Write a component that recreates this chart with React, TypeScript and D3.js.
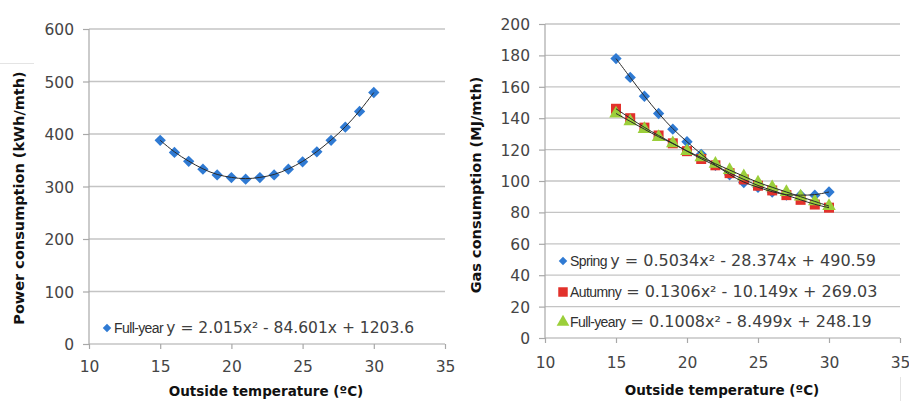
import React, { useEffect, useRef } from 'react';
import * as d3 from 'd3';

// outside temperature (ºC) of every monthly point
const temps = [15, 16, 17, 18, 19, 20, 21, 22, 23, 24, 25, 26, 27, 28, 29, 30];

// power consumption (kWh/mth)
const powerFullYear = [388, 365, 348, 333, 322, 317, 314, 317, 322, 333, 347, 366, 388, 413, 443, 479];

// gas consumption (MJ/mth)
const gasSpring = [178, 166, 154, 143, 133, 125, 117, 110, 104, 99, 96, 93, 91, 91, 91, 93];
const gasAutumn = [146, 140, 134, 129, 124, 119, 114, 110, 105, 101, 97, 94, 91, 88, 85, 83];
const gasFullYear = [143, 138, 133, 128, 124, 119, 115, 111, 107, 103, 99, 96, 93, 90, 87, 84];

const xTicks = [10, 15, 20, 25, 30, 35];
const powerTicks = [0, 100, 200, 300, 400, 500, 600];
const gasTicks = [0, 20, 40, 60, 80, 100, 120, 140, 160, 180, 200];

const BLUE = '#2f7ad3';
const RED = '#e2312b';
const GREEN = '#9bcf3a';
const FONT = '"DejaVu Sans", Verdana, sans-serif';
const NARROW = '"Liberation Sans Narrow", "Arial Narrow", "Liberation Sans", sans-serif';

export default function App() {
    const svgRef = useRef<SVGSVGElement>(null);

    useEffect(() => {
        const svg = d3.select(svgRef.current);
        svg.selectAll('*').remove();

        // frame artifacts of the scanned figure
        svg.append('line').attr('x1', 0).attr('x2', 34).attr('y1', 63.5).attr('y2', 63.5)
            .attr('stroke', '#e4e4e4').attr('stroke-width', 1);
        svg.append('line').attr('x1', 900.5).attr('x2', 900.5).attr('y1', 377).attr('y2', 401)
            .attr('stroke', '#e4e4e4').attr('stroke-width', 1);

        function panel(opts: any) {
            const x = d3.scaleLinear().domain([10, 35]).range(opts.xRange);
            const y = d3.scaleLinear().domain(opts.yDomain).range(opts.yRange);
            const g = svg.append('g');

            // gridlines
            g.selectAll('.grid').data(opts.yTicks.filter((d: number) => d > 0)).enter()
                .append('line')
                .attr('x1', x(10)).attr('x2', x(35))
                .attr('y1', (d: number) => y(d)).attr('y2', (d: number) => y(d))
                .attr('stroke', '#c4c4c4').attr('stroke-width', 1.3);

            // axes
            const xAxis = d3.axisBottom(x).tickValues(xTicks).tickSize(5).tickFormat(d3.format('d'));
            const yAxis = d3.axisLeft(y).tickValues(opts.yTicks).tickSize(6).tickFormat(d3.format('d'));
            const gx = g.append('g').attr('transform', `translate(0,${y(0)})`).call(xAxis);
            const gy = g.append('g').attr('transform', `translate(${x(10)},0)`).call(yAxis);
            [gx, gy].forEach(a => {
                a.select('.domain').attr('stroke', '#a8a8a8').attr('stroke-width', 1.2);
                a.selectAll('.tick line').attr('stroke', '#a8a8a8').attr('stroke-width', 1.2);
                a.selectAll('.tick text').attr('fill', '#454545')
                    .style('font-family', FONT).style('font-size', '15.5px');
            });
            gx.select('.domain').attr('d', `M${x(10)},0H${x(35)}`);
            gx.selectAll('.tick text').attr('dy', '0').attr('y', opts.xLabelY);
            gy.selectAll('.tick text').attr('x', -15).attr('dy', '0.36em');
            gy.select('.domain').attr('d', `M0,${y(opts.yDomain[1])}V${y(0)}`);

            // series
            opts.series.forEach((s: any) => {
                const pts = temps.map((t, i) => [x(t), y(s.values[i])] as [number, number]);
                g.append('g').selectAll('path').data(pts).enter().append('path')
                    .attr('d', d3.symbol().type(s.symbol).size(s.size)())
                    .attr('transform', (p: [number, number]) =>
                        `translate(${p[0]},${p[1]})` + (s.rotate ? ' rotate(45)' : ''))
                    .attr('fill', s.color);
            });
            opts.series.forEach((s: any) => {
                const pts = temps.map((t, i) => [x(t), y(s.values[i])] as [number, number]);
                g.append('path')
                    .attr('d', d3.line().curve(d3.curveBasis)(pts))
                    .attr('fill', 'none').attr('stroke', '#2a2a2a').attr('stroke-width', 1);
            });

            // legend
            opts.series.forEach((s: any, i: number) => {
                const ly = opts.legendY[i];
                g.append('path')
                    .attr('d', d3.symbol().type(s.symbol).size(s.legendSize)())
                    .attr('transform', `translate(${opts.legendX},${ly - 5})` + (s.rotate ? ' rotate(45)' : ''))
                    .attr('fill', s.color);
                const t = g.append('text').attr('x', opts.legendX + 7).attr('y', ly).attr('fill', '#303030');
                t.append('tspan').text(s.label)
                    .style('font-family', NARROW).style('font-size', '14px').attr('letter-spacing', -0.6);
                t.append('tspan').text(s.formula)
                    .style('font-family', FONT).style('font-size', opts.legendFont).attr('fill', '#404040');
            });

            // axis titles
            g.append('text')
                .attr('transform', `translate(${opts.yTitleX},${opts.yTitleY}) rotate(-90)`)
                .attr('text-anchor', 'middle')
                .style('font-family', FONT).style('font-size', '14.5px').style('font-weight', 'bold')
                .attr('fill', '#111')
                .text(opts.yTitle);
            g.append('text')
                .attr('x', opts.xTitleX).attr('y', opts.xTitleY)
                .attr('text-anchor', 'middle')
                .style('font-family', FONT).style('font-size', '13.5px').style('font-weight', 'bold')
                .attr('fill', '#111')
                .text('Outside temperature (ºC)');
        }

        panel({
            xRange: [89, 445],
            yDomain: [0, 600],
            yRange: [344, 29],
            yTicks: powerTicks,
            xLabelY: 28,
            legendX: 107,
            legendY: [333],
            legendFont: '15.5px',
            yTitle: 'Power consumption  (kWh/mth)',
            yTitleX: 24,
            yTitleY: 198,
            xTitleX: 266,
            xTitleY: 396,
            series: [
                { values: powerFullYear, color: BLUE, symbol: d3.symbolSquare, size: 64, legendSize: 36, rotate: true,
                  label: 'Full-year ', formula: 'y = 2.015x² - 84.601x + 1203.6' },
            ],
        });

        panel({
            xRange: [545, 900],
            yDomain: [0, 200],
            yRange: [338, 24],
            yTicks: gasTicks,
            xLabelY: 30,
            legendX: 563,
            legendY: [266, 297, 327],
            legendFont: '16px',
            yTitle: 'Gas consumption  (MJ/mth)',
            yTitleX: 481,
            yTitleY: 185,
            xTitleX: 722,
            xTitleY: 395,
            series: [
                { values: gasSpring, color: BLUE, symbol: d3.symbolSquare, size: 64, legendSize: 36, rotate: true,
                  label: 'Spring ', formula: 'y = 0.5034x² - 28.374x + 490.59' },
                { values: gasAutumn, color: RED, symbol: d3.symbolSquare, size: 100, legendSize: 90, rotate: false,
                  label: ' Autumny', formula: ' = 0.1306x² - 10.149x + 269.03' },
                { values: gasFullYear, color: GREEN, symbol: d3.symbolTriangle, size: 80, legendSize: 70, rotate: false,
                  label: 'Full-yeary', formula: ' = 0.1008x² - 8.499x + 248.19' },
            ],
        });
    }, []);

    return (
        <svg ref={svgRef} width={909} height={401}
            style={{ position: 'absolute', left: 0, top: 0, background: '#fff' }} />
    );
}
